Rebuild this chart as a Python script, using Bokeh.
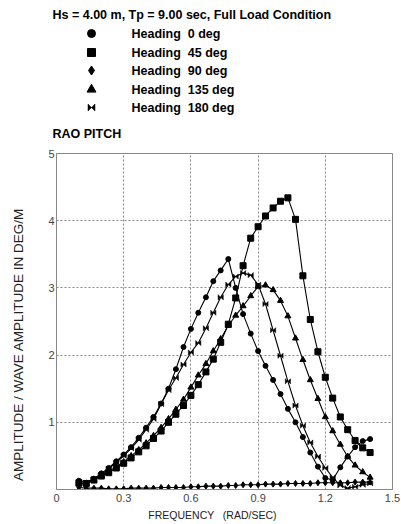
from bokeh.plotting import figure
from bokeh.layouts import column, row
from bokeh.models import Range1d, FixedTicker
from bokeh.core.properties import value
from bokeh.embed import file_html
from bokeh.resources import INLINE
import math

# Pitch RAO, Hs = 4.00 m, Tp = 9.00 sec, full load condition
freq = [0.100, 0.133, 0.167, 0.200, 0.233, 0.267, 0.300, 0.333, 0.367, 0.400,
        0.433, 0.467, 0.500, 0.533, 0.567, 0.600, 0.633, 0.667, 0.700, 0.733,
        0.767, 0.800, 0.833, 0.867, 0.900, 0.933, 0.967, 1.000, 1.033, 1.067,
        1.100, 1.133, 1.167, 1.200, 1.233, 1.267, 1.300, 1.333, 1.367, 1.400]

rao_0 = [0.13, 0.10, 0.16, 0.24, 0.32, 0.42, 0.52, 0.63, 0.77, 0.92,
         1.08, 1.28, 1.50, 1.79, 2.12, 2.39, 2.63, 2.86, 3.10, 3.26,
         3.43, 3.00, 2.61, 2.32, 2.06, 1.84, 1.63, 1.42, 1.20, 1.00,
         0.78, 0.55, 0.34, 0.17, 0.14, 0.33, 0.49, 0.63, 0.72, 0.75]

rao_45 = [0.10, 0.09, 0.14, 0.20, 0.25, 0.32, 0.39, 0.47, 0.56, 0.65,
          0.76, 0.87, 1.00, 1.12, 1.25, 1.40, 1.56, 1.75, 1.94, 2.19,
          2.46, 2.85, 3.33, 3.74, 3.91, 4.07, 4.19, 4.29, 4.34, 4.02,
          3.18, 2.53, 2.05, 1.67, 1.36, 1.08, 0.89, 0.73, 0.62, 0.55]

rao_90 = [0.03, 0.02, 0.02, 0.02, 0.01, 0.01, 0.01, 0.02, 0.02, 0.02,
          0.02, 0.03, 0.03, 0.03, 0.03, 0.04, 0.04, 0.05, 0.05, 0.05,
          0.06, 0.06, 0.07, 0.07, 0.07, 0.08, 0.08, 0.08, 0.09, 0.09,
          0.09, 0.09, 0.10, 0.10, 0.10, 0.10, 0.10, 0.11, 0.11, 0.11]

rao_135 = [0.08, 0.09, 0.15, 0.21, 0.27, 0.34, 0.41, 0.50, 0.59, 0.69,
           0.80, 0.92, 1.05, 1.19, 1.34, 1.52, 1.70, 1.87, 2.06, 2.24,
           2.44, 2.59, 2.73, 2.88, 3.02, 3.04, 2.97, 2.81, 2.58, 2.25,
           1.93, 1.63, 1.35, 1.08, 0.87, 0.67, 0.49, 0.36, 0.26, 0.18]

rao_180 = [0.08, 0.10, 0.16, 0.22, 0.31, 0.40, 0.50, 0.61, 0.74, 0.89,
           1.05, 1.27, 1.48, 1.66, 1.86, 2.04, 2.18, 2.40, 2.63, 2.86,
           3.05, 3.17, 3.22, 3.19, 3.05, 2.76, 2.37, 1.99, 1.61, 1.25,
           0.95, 0.70, 0.49, 0.32, 0.18, 0.06, 0.02, 0.04, 0.07, 0.09]

NBSP = "\u00a0"
headings = ["Heading " + NBSP + "0 deg", "Heading " + NBSP + "45 deg",
            "Heading " + NBSP + "90 deg", "Heading " + NBSP + "135 deg",
            "Heading " + NBSP + "180 deg"]
markers = ["circle", "square", "diamond", "triangle", "bowtie"]
series = [rao_0, rao_45, rao_90, rao_135, rao_180]

title_text = "Hs = 4.00 m, Tp = 9.00 sec, Full Load Condition"
chart_title = "RAO PITCH"
x_title = "FREQUENCY " + NBSP + NBSP + "(RAD/SEC)"
y_title = "AMPLITUDE / WAVE AMPLITUDE IN DEG/M"
x_ticks = [0, 0.3, 0.6, 0.9, 1.2, 1.5]
y_ticks = [0, 1, 2, 3, 4, 5]

FONT = value("Liberation Sans")
INK = "#000000"

# page layout (pixels)
W = 401
HEAD_H = 140          # title + heading key
SIDE_W = 30           # strip holding the vertical axis title
PLOT_H = 367
FOOT_H = 524 - HEAD_H - PLOT_H


def bowtie_shapes(xs, ys, hx, hy):
    """Two triangles meeting at each point, bases left and right."""
    px, py = [], []
    for x, y in zip(xs, ys):
        px.append([x - hx, x - hx, x, x + hx, x + hx, x])
        py.append([y - hy, y + hy, y, y + hy, y - hy, y])
    return px, py


def draw_marker(fig, kind, xs, ys, size, hx, hy):
    if kind == "bowtie":
        bx, by = bowtie_shapes(xs, ys, hx, hy)
        fig.patches(bx, by, fill_color=INK, line_color=INK, line_width=0.5)
    else:
        fig.scatter(xs, ys, marker=kind, size=size, fill_color=INK,
                    line_color=INK)


def blank(width, height):
    """A borderless canvas whose data units are its own pixels (y down)."""
    f = figure(width=width, height=height, output_backend="svg",
               toolbar_location=None, x_range=Range1d(0, width),
               y_range=Range1d(height, 0), min_border=0,
               outline_line_color=None)
    f.axis.visible = False
    f.grid.visible = False
    f.frame_align = False
    return f


# ---- header: condition title, heading key, chart title ----
head = blank(W, HEAD_H)
head.text(x=[52, 52], y=[14, 133], text=[title_text, chart_title],
          text_font=FONT, text_font_style="bold", text_font_size="12.5px",
          text_baseline="middle", text_color=INK)

row_y = [33, 52, 70, 89, 107]
key_sizes = {"circle": 8, "square": 8, "diamond": 9, "triangle": 9}
for kind, label, ry in zip(markers, headings, row_y):
    draw_marker(head, kind, [91], [ry], key_sizes.get(kind, 8), 3.5, 3.5)
    head.text(x=[131], y=[ry], text=[label], text_font=FONT,
              text_font_style="bold", text_font_size="12.5px",
              text_baseline="middle", text_color=INK)

# ---- vertical axis title ----
side = blank(SIDE_W, PLOT_H)
side.text(x=[18], y=[204], text=[y_title], angle=math.pi / 2,
          text_font=FONT, text_font_size="13.5px", text_align="center",
          text_baseline="middle", text_color="#222222")

# ---- main RAO plot ----
p = figure(width=W - SIDE_W, height=PLOT_H, output_backend="svg",
           toolbar_location=None, x_range=Range1d(0, 1.5), y_range=Range1d(0, 5),
           min_border_left=56 - SIDE_W, min_border_right=9, min_border_top=13,
           min_border_bottom=PLOT_H - 13 - 336, outline_line_color="#888888",
           outline_line_width=1)
p.frame_align = False

p.xaxis.ticker = FixedTicker(ticks=x_ticks)
p.yaxis.ticker = FixedTicker(ticks=y_ticks)
p.yaxis.major_label_overrides = {0: ""}
for ax in (p.xaxis, p.yaxis):
    ax.axis_line_color = "#888888"
    ax.major_tick_line_color = None
    ax.minor_tick_line_color = None
    ax.major_tick_out = 0
    ax.major_tick_in = 0
    ax.major_label_text_font = "Liberation Sans"
    ax.major_label_text_font_size = "11px"
    ax.major_label_text_color = "#444444"
p.xaxis.major_label_standoff = 4
p.yaxis.major_label_standoff = 2

p.grid.grid_line_color = "#888888"
p.grid.grid_line_dash = "2 2"
p.grid.grid_line_width = 1

plot_sizes = {"circle": 5, "square": 6, "diamond": 6, "triangle": 6}
hx = 2.6 / 224.4
hy = 2.6 / 67.3
for kind, ys in zip(markers, series):
    p.line(freq, ys, line_color=INK, line_width=1.1)
    draw_marker(p, kind, freq, ys, plot_sizes.get(kind, 6), hx, hy)

# ---- horizontal axis title ----
foot = blank(W, FOOT_H)
foot.text(x=[212], y=[FOOT_H / 2 - 1], text=[x_title], text_font=FONT,
          text_font_size="10.5px", text_align="center",
          text_baseline="middle", text_color="#222222")

layout = column(head, row(side, p, spacing=0), foot, spacing=0)
open("out.html", "w").write(file_html(layout, INLINE))
